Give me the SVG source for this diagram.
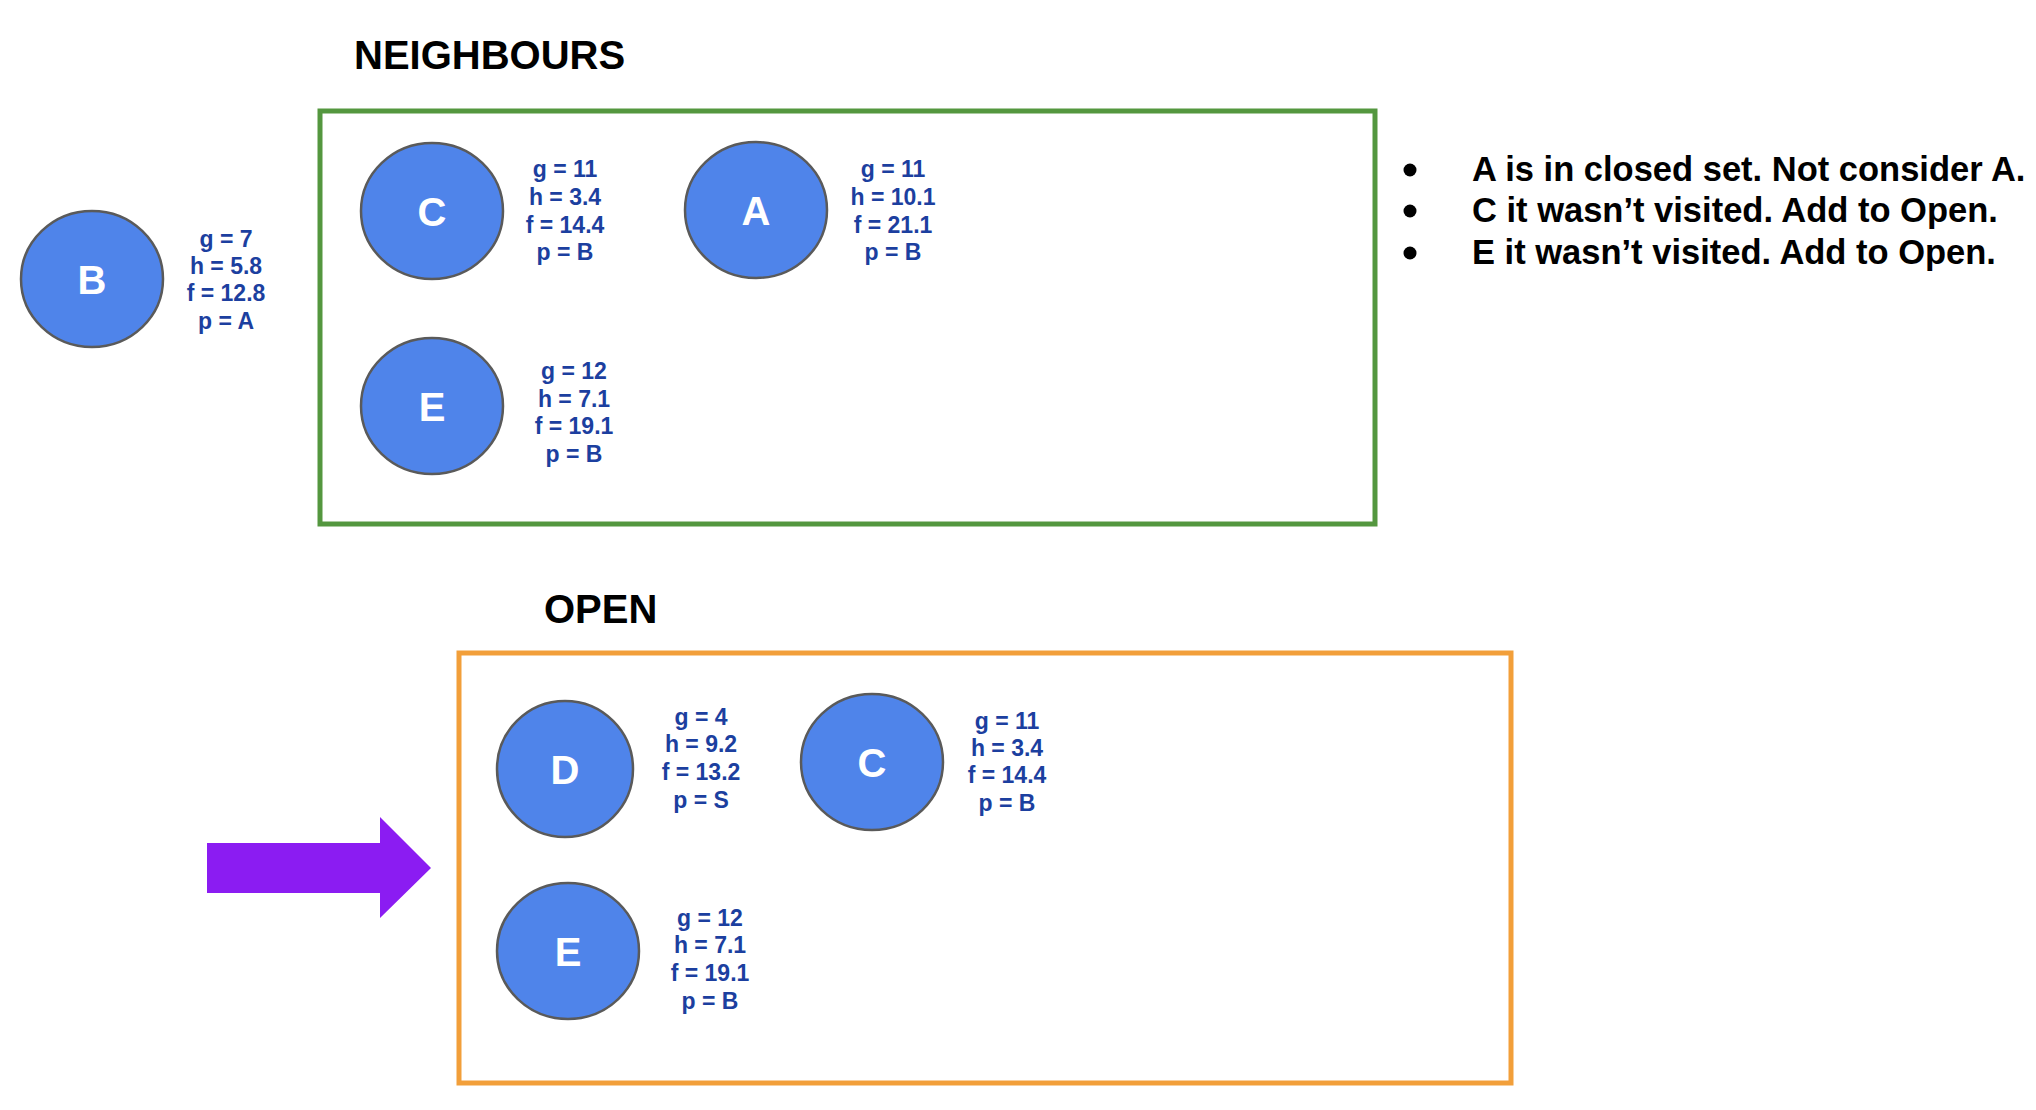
<svg xmlns="http://www.w3.org/2000/svg" width="2036" height="1110" viewBox="0 0 2036 1110">
<style>
.node{fill:#4f84ea;stroke:#5a5a5a;stroke-width:2.5}
.ltr{font-family:"Liberation Sans",Arial,sans-serif;font-weight:bold;font-size:40px;fill:#ffffff;text-anchor:middle}
.lbl{font-family:"Liberation Sans",Arial,sans-serif;font-weight:bold;font-size:23px;fill:#1c3f9f;text-anchor:middle}
.ttl{font-family:"Liberation Sans",Arial,sans-serif;font-weight:bold;font-size:40px;fill:#000000}
.bul{font-family:"Liberation Sans",Arial,sans-serif;font-weight:bold;font-size:34.5px;fill:#000000}
</style>
<rect width="2036" height="1110" fill="#ffffff"/>
<g id="neighbours-box">
<text class="ttl" x="354" y="69">NEIGHBOURS</text>
<rect x="320" y="111" width="1055" height="413" fill="none" stroke="#54973f" stroke-width="5"/>
</g>
<g id="open-box">
<text class="ttl" x="544" y="623">OPEN</text>
<rect x="459" y="653" width="1052" height="430" fill="none" stroke="#f29f3a" stroke-width="5"/>
</g>
<g id="node-B">
<ellipse class="node" cx="92" cy="279" rx="71" ry="68"/>
<text class="ltr" x="92" y="294">B</text>
<text class="lbl" x="226"><tspan x="226" y="247">g = 7</tspan><tspan x="226" y="274">h = 5.8</tspan><tspan x="226" y="301">f = 12.8</tspan><tspan x="226" y="329">p = A</tspan></text>
</g>
<g id="nb-C">
<ellipse class="node" cx="432" cy="211" rx="71" ry="68"/>
<text class="ltr" x="432" y="226">C</text>
<text class="lbl"><tspan x="565" y="177">g = 11</tspan><tspan x="565" y="205">h = 3.4</tspan><tspan x="565" y="233">f = 14.4</tspan><tspan x="565" y="260">p = B</tspan></text>
</g>
<g id="nb-A">
<ellipse class="node" cx="756" cy="210" rx="71" ry="68"/>
<text class="ltr" x="756" y="225">A</text>
<text class="lbl"><tspan x="893" y="177">g = 11</tspan><tspan x="893" y="205">h = 10.1</tspan><tspan x="893" y="233">f = 21.1</tspan><tspan x="893" y="260">p = B</tspan></text>
</g>
<g id="nb-E">
<ellipse class="node" cx="432" cy="406" rx="71" ry="68"/>
<text class="ltr" x="432" y="421">E</text>
<text class="lbl"><tspan x="574" y="379">g = 12</tspan><tspan x="574" y="407">h = 7.1</tspan><tspan x="574" y="434">f = 19.1</tspan><tspan x="574" y="462">p = B</tspan></text>
</g>
<g id="open-D">
<ellipse class="node" cx="565" cy="769" rx="68" ry="68"/>
<text class="ltr" x="565" y="784">D</text>
<text class="lbl"><tspan x="701" y="725">g = 4</tspan><tspan x="701" y="752">h = 9.2</tspan><tspan x="701" y="780">f = 13.2</tspan><tspan x="701" y="808">p = S</tspan></text>
</g>
<g id="open-C">
<ellipse class="node" cx="872" cy="762" rx="71" ry="68"/>
<text class="ltr" x="872" y="777">C</text>
<text class="lbl"><tspan x="1007" y="729">g = 11</tspan><tspan x="1007" y="756">h = 3.4</tspan><tspan x="1007" y="783">f = 14.4</tspan><tspan x="1007" y="811">p = B</tspan></text>
</g>
<g id="open-E">
<ellipse class="node" cx="568" cy="951" rx="71" ry="68"/>
<text class="ltr" x="568" y="966">E</text>
<text class="lbl"><tspan x="710" y="926">g = 12</tspan><tspan x="710" y="953">h = 7.1</tspan><tspan x="710" y="981">f = 19.1</tspan><tspan x="710" y="1009">p = B</tspan></text>
</g>
<g id="notes">
<circle cx="1410" cy="170" r="6.5" fill="#000000"/>
<circle cx="1410" cy="211" r="6.5" fill="#000000"/>
<circle cx="1410" cy="253" r="6.5" fill="#000000"/>
<text class="bul" x="1472" y="181">A is in closed set. Not consider A.</text>
<text class="bul" x="1472" y="222">C it wasn’t visited. Add to Open.</text>
<text class="bul" x="1472" y="264">E it wasn’t visited. Add to Open.</text>
</g>
<g id="connectors">
<polygon points="207,843 380,843 380,817 431,868 380,918 380,893 207,893" fill="#8b1cf2"/>
</g>
</svg>
